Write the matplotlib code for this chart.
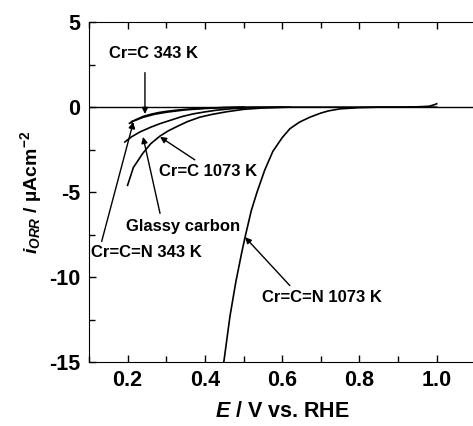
import matplotlib
matplotlib.use("Agg")
import matplotlib.pyplot as plt
from matplotlib.ticker import MultipleLocator

plt.rcParams['font.family'] = ['Liberation Sans', 'DejaVu Sans']
plt.rcParams['font.weight'] = 'bold'
plt.rcParams['axes.unicode_minus'] = False
plt.rcParams['mathtext.fontset'] = 'custom'
plt.rcParams['mathtext.rm'] = 'Liberation Sans:bold'
plt.rcParams['mathtext.it'] = 'Liberation Sans:italic:bold'
plt.rcParams['mathtext.bf'] = 'Liberation Sans:bold'

# curves (E in V vs RHE, i in uA cm-2)
crc343_x = [0.205, 0.22, 0.24, 0.26, 0.28, 0.30, 0.33, 0.36, 0.40, 0.45, 0.50, 0.60, 0.80, 1.0]
crc343_y = [-0.95, -0.75, -0.55, -0.42, -0.32, -0.25, -0.17, -0.11, -0.06, -0.02, 0.0, 0.0, 0.0, 0.0]

crcn343_x = [0.217, 0.21, 0.22, 0.24, 0.27, 0.30, 0.35, 0.40, 0.45, 0.50]
crcn343_y = [-1.25, -0.85, -0.78, -0.60, -0.42, -0.30, -0.16, -0.08, -0.03, 0.0]

gc_x = [0.193, 0.21, 0.232, 0.26, 0.284, 0.31, 0.34, 0.369, 0.40, 0.43, 0.47, 0.52, 0.60]
gc_y = [-2.05, -1.75, -1.46, -1.18, -0.97, -0.78, -0.56, -0.40, -0.28, -0.18, -0.09, -0.03, 0.0]

crc1073_x = [0.20, 0.215, 0.24, 0.26, 0.284, 0.305, 0.327, 0.355, 0.387, 0.42, 0.457, 0.50, 0.55, 0.62]
crc1073_y = [-4.6, -3.55, -2.7, -2.15, -1.7, -1.4, -1.15, -0.85, -0.59, -0.42, -0.27, -0.13, -0.05, 0.0]

crcn1073_x = [0.449, 0.465, 0.48, 0.495, 0.504, 0.52, 0.535, 0.555, 0.576, 0.60, 0.62, 0.645,
              0.672, 0.70, 0.72, 0.75, 0.80, 0.85, 0.90, 0.95, 0.98, 0.995, 1.0]
crcn1073_y = [-15.0, -12.3, -10.3, -8.6, -7.65, -6.1, -5.0, -3.7, -2.6, -1.8, -1.27, -0.88,
              -0.59, -0.35, -0.22, -0.10, -0.03, 0.0, 0.0, 0.02, 0.05, 0.15, 0.2]

# labels: text, text position, arrow start, arrow tip
labels = ['Cr=C 343 K', 'Cr=C 1073 K', 'Glassy carbon', 'Cr=C=N 343 K', 'Cr=C=N 1073 K']
label_pos = [(0.266, 3.15), (0.408, -3.8), (0.343, -7.03), (0.249, -8.55), (0.702, -11.2)]
arrow_from = [(0.245, 2.03), (0.374, -3.1), (0.284, -6.25), (0.133, -7.9), (0.62, -10.5)]
arrow_to = [(0.245, -0.4), (0.284, -1.75), (0.24, -1.75), (0.215, -0.88), (0.504, -7.65)]

fig = plt.figure(figsize=(4.73, 4.26), dpi=100)
ax = fig.add_axes([0.188, 0.150, 0.817, 0.798])

ax.axhline(0, color='black', lw=1.0)
for xs, ys in [(crc343_x, crc343_y), (crcn343_x, crcn343_y), (gc_x, gc_y),
               (crc1073_x, crc1073_y), (crcn1073_x, crcn1073_y)]:
    ax.plot(xs, ys, color='black', lw=1.2)

ax.set_xlim(0.1, 1.1)
ax.set_ylim(-15, 5)
ax.xaxis.set_minor_locator(MultipleLocator(0.1))
ax.yaxis.set_major_locator(MultipleLocator(5))
ax.yaxis.set_minor_locator(MultipleLocator(2.5))
ax.set_xticks([0.2, 0.4, 0.6, 0.8, 1.0])
ax.set_xticklabels(['0.2', '0.4', '0.6', '0.8', '1.0'])
ax.tick_params(which='both', direction='in', top=True, right=False, labelsize=15.5, width=1)
ax.tick_params(which='major', length=5, pad=6)
ax.tick_params(which='minor', length=4)
ax.spines['right'].set_visible(False)

ax.set_xlabel(r'$E$ / V vs. RHE', fontsize=15.5, fontweight='bold', labelpad=7)
ax.set_ylabel(r'$i_{ORR}$ / µAcm$^{-2}$', fontsize=14, fontweight='bold', labelpad=4)

arrow = dict(arrowstyle='-|>', color='black', lw=1.0, mutation_scale=9, shrinkA=0, shrinkB=0)
for lab, pos, a0, a1 in zip(labels, label_pos, arrow_from, arrow_to):
    ax.annotate('', xy=a1, xytext=a0, arrowprops=arrow)
    ax.text(pos[0], pos[1], lab, fontsize=12, fontweight='bold', ha='center', va='center')

fig.savefig('out.png', dpi=100)
